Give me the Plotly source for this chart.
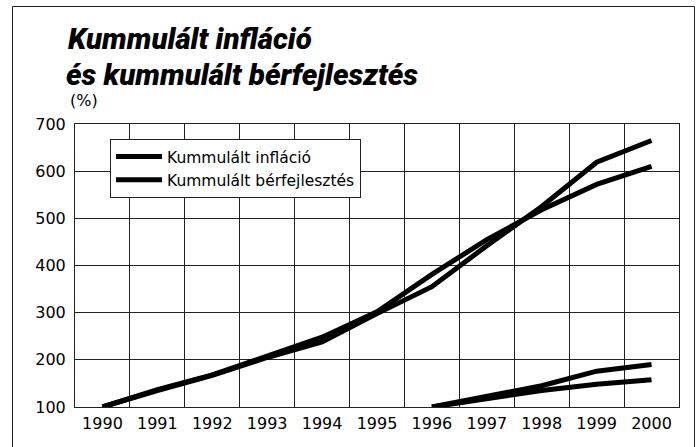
import plotly.graph_objects as go

years = ["1990", "1991", "1992", "1993", "1994", "1995", "1996", "1997", "1998", "1999", "2000"]
inflation = [100, 137, 168, 207, 248, 302, 381, 455, 518, 572, 610]
wages = [100, 135, 167, 205, 238, 298, 355, 442, 525, 619, 665]

years_from_1996 = ["1996", "1997", "1998", "1999", "2000"]
inflation_from_1996 = [100, 118, 135, 148, 158]
wages_from_1996 = [100, 122, 145, 176, 190]

y_ticks = [100, 200, 300, 400, 500, 600, 700]

name_infl = "Kummulált infláció"
name_wage = "Kummulált bérfejlesztés"

fig = go.Figure()
fig.add_trace(go.Scatter(x=years, y=inflation, mode="lines", name=name_infl,
                         legendgroup="infl", line=dict(color="black", width=5)))
fig.add_trace(go.Scatter(x=years, y=wages, mode="lines", name=name_wage,
                         legendgroup="wage", line=dict(color="black", width=5)))
fig.add_trace(go.Scatter(x=years_from_1996, y=inflation_from_1996, mode="lines", name=name_infl,
                         legendgroup="infl", showlegend=False, line=dict(color="black", width=5)))
fig.add_trace(go.Scatter(x=years_from_1996, y=wages_from_1996, mode="lines", name=name_wage,
                         legendgroup="wage", showlegend=False, line=dict(color="black", width=5)))

W, H = 700, 447
ML, MR, MT, MB = 9, 3, 3, 0
PW, PH = W - ML - MR, H - MT - MB

def px(xp):
    return (xp - ML) / PW

def py(yp):
    return (H - MB - yp) / PH

title_font = dict(family="Liberation Sans Narrow, Roboto, Liberation Sans", size=29.5,
                  color="black", weight=900, style="italic")

frame = dict(color="#222", width=1)
fl, fr, ft = px(12.5), px(694.5), py(6.5)

fig.update_layout(
    width=W, height=H,
    margin=dict(l=ML, r=MR, t=MT, b=MB, pad=0, autoexpand=False),
    paper_bgcolor="white", plot_bgcolor="white",
    font=dict(family="DejaVu Sans", size=16, color="black"),
    showlegend=True,
    legend=dict(
        x=px(110), y=py(139), xanchor="left", yanchor="top",
        bgcolor="white", bordercolor="#222", borderwidth=1,
        font=dict(family="DejaVu Sans", size=15.5, color="black"),
        traceorder="normal", tracegroupgap=0, itemwidth=46,
    ),
    xaxis=dict(
        domain=[px(75), px(679)], automargin=False,
        type="category", categoryorder="array", categoryarray=years,
        range=[-0.5, 10.5], tickson="boundaries", showgrid=True,
        gridcolor="#222", gridwidth=1, showline=True, linecolor="#222", linewidth=1,
        mirror=True, ticks="", tickfont=dict(family="DejaVu Sans", size=16),
        ticklabelstandoff=2,
    ),
    yaxis=dict(
        domain=[py(407), py(124)], automargin=False,
        range=[100, 700], tickvals=y_ticks, showgrid=True, gridcolor="#222", gridwidth=1,
        showline=True, linecolor="#222", linewidth=1, mirror=True, ticks="",
        tickfont=dict(family="DejaVu Sans", size=16), ticklabelstandoff=5, zeroline=False,
    ),
    shapes=[
        dict(type="line", xref="paper", yref="paper", x0=fl, x1=fl, y0=0, y1=ft, line=frame, layer="above"),
        dict(type="line", xref="paper", yref="paper", x0=fr, x1=fr, y0=0, y1=ft, line=frame, layer="above"),
        dict(type="line", xref="paper", yref="paper", x0=fl, x1=fr, y0=ft, y1=ft, line=frame, layer="above"),
    ],
    annotations=[
        dict(text="Kummulált infláció", xref="paper", yref="paper", x=px(66), y=py(58),
             xanchor="left", yanchor="bottom", showarrow=False, font=title_font),
        dict(text="és kummulált bérfejlesztés", xref="paper", yref="paper", x=px(64), y=py(94),
             xanchor="left", yanchor="bottom", showarrow=False, font=title_font),
        dict(text="(%)", xref="paper", yref="paper", x=px(68), y=py(101),
             xanchor="left", yanchor="middle", showarrow=False,
             font=dict(family="DejaVu Sans", size=16, color="black")),
    ],
)

fig.write_html("out.html", config={"displayModeBar": False},
               post_script="document.body.style.margin='0';")
